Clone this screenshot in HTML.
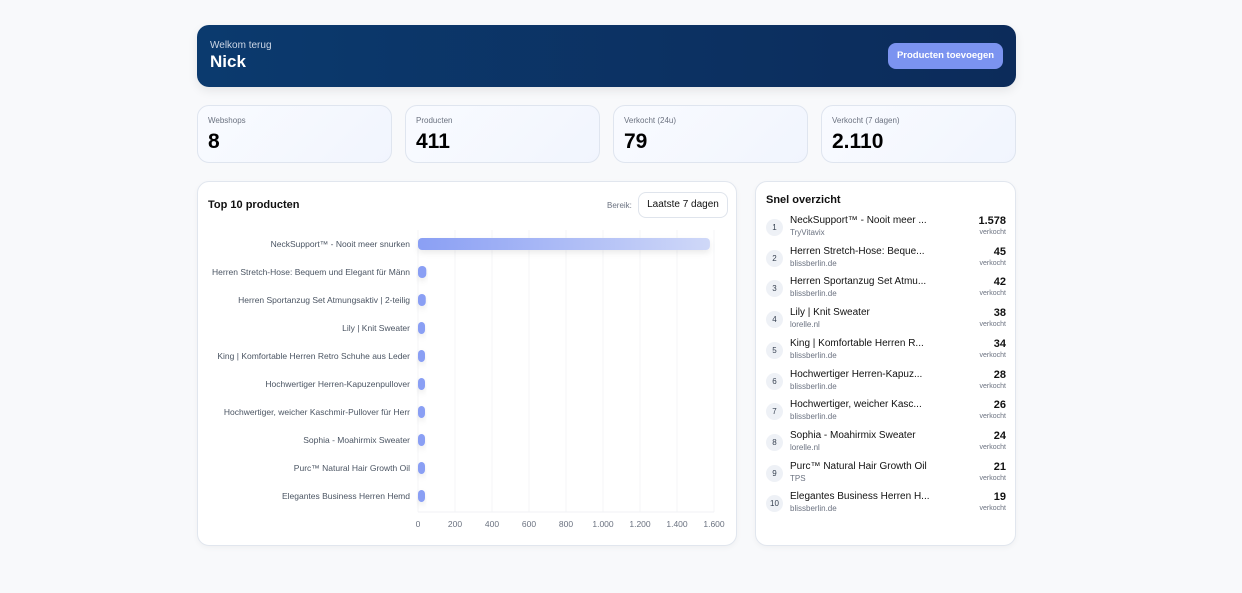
<!DOCTYPE html>
<html><head><meta charset="utf-8"><style>
*{box-sizing:border-box;margin:0;padding:0}
body{width:1242px;height:593px;background:#f8f9fb;font-family:"Liberation Sans",sans-serif;position:relative;overflow:hidden;color:#111}
.abs{position:absolute}
.hero{left:197px;top:25px;width:819px;height:62px;border-radius:12px;background:linear-gradient(90deg,#0b3a6e,#0c2b5a);box-shadow:0 4px 10px rgba(0,0,0,.08)}
.card{background:linear-gradient(135deg,#f9fbff,#f1f5fe);border:1px solid #dfe5ef;border-radius:12px;top:105px;width:195px;height:58px}
.card .l{position:absolute;left:10px;top:10px;font-size:8px;color:#6b7280}
.card .v{position:absolute;left:10px;top:24px;font-size:21px;font-weight:bold;color:#000}
.panel{background:#fff;border:1px solid #e1e6ee;border-radius:12px;top:181px;height:365px;box-shadow:0 2px 6px rgba(0,0,0,.04)}
.row{position:absolute;left:0;width:261px;height:30px}
.num{position:absolute;left:10px;top:4px;width:17px;height:17px;border-radius:50%;background:#eef1f6;font-size:8px;color:#374151;text-align:center;line-height:17px}
.nm{position:absolute;left:34px;top:0;font-size:10px;color:#111}
.sh{position:absolute;left:34px;top:13px;font-size:8px;color:#6b7280}
.ct{position:absolute;right:11px;top:0;font-size:11px;font-weight:bold;text-align:right}
.vk{position:absolute;right:11px;top:14px;font-size:7px;color:#6b7280}
</style></head><body>
<div class="abs hero">
 <div class="abs" style="left:13px;top:15px;font-size:10px;color:#cdd7e6">Welkom terug</div>
 <div class="abs" style="left:13px;top:27px;font-size:17px;font-weight:bold;color:#fff">Nick</div>
 <div class="abs" style="left:691px;top:18px;width:115px;height:26px;border-radius:8px;background:#7b93f0;color:#fff;font-size:9.5px;font-weight:bold;text-align:center;line-height:26px">Producten toevoegen</div>
</div>
<div class="abs card" style="left:197px"><div class="l">Webshops</div><div class="v">8</div></div>
<div class="abs card" style="left:405px"><div class="l">Producten</div><div class="v">411</div></div>
<div class="abs card" style="left:613px"><div class="l">Verkocht (24u)</div><div class="v">79</div></div>
<div class="abs card" style="left:821px"><div class="l">Verkocht (7 dagen)</div><div class="v">2.110</div></div>

<div class="abs panel" style="left:197px;width:540px">
 <div class="abs" style="left:10px;top:17px;font-size:11px;font-weight:bold">Top 10 producten</div>
 <div class="abs" style="left:409px;top:19px;font-size:8px;color:#6b7280">Bereik:</div>
 <div class="abs" style="left:440px;top:10px;width:90px;height:26px;border:1px solid #dfe4ec;border-radius:8px;font-size:10px;text-align:center;line-height:24px">Laatste 7 dagen</div>
</div>
<svg class="abs" style="left:0;top:0" width="1242" height="593" id="chart">
 <defs><linearGradient id="bg" x1="0" x2="1"><stop offset="0" stop-color="#8a9ff4"/><stop offset="1" stop-color="#cfd8f8"/></linearGradient>
 <filter id="sh" x="-20%" y="-100%" width="140%" height="300%"><feDropShadow dx="0" dy="3" stdDeviation="3" flood-color="#000" flood-opacity=".08"/></filter></defs>
</svg>

<div class="abs panel" style="left:755px;width:261px">
 <div class="abs" style="left:10px;top:12px;font-size:11px;font-weight:bold">Snel overzicht</div>
 <div id="list"></div>
</div>
<script>
const categories=["NeckSupport™ - Nooit meer snurken","Herren Stretch-Hose: Bequem und Elegant für Männ","Herren Sportanzug Set Atmungsaktiv | 2-teilig","Lily | Knit Sweater","King | Komfortable Herren Retro Schuhe aus Leder","Hochwertiger Herren-Kapuzenpullover","Hochwertiger, weicher Kaschmir-Pullover für Herr","Sophia - Moahirmix Sweater","Purc™ Natural Hair Growth Oil","Elegantes Business Herren Hemd"];
const values=[1578,45,42,38,34,28,26,24,21,19];
const shortNames=["NeckSupport™ - Nooit meer ...","Herren Stretch-Hose: Beque...","Herren Sportanzug Set Atmu...","Lily | Knit Sweater","King | Komfortable Herren R...","Hochwertiger Herren-Kapuz...","Hochwertiger, weicher Kasc...","Sophia - Moahirmix Sweater","Purc™ Natural Hair Growth Oil","Elegantes Business Herren H..."];
const shops=["TryVitavix","blissberlin.de","blissberlin.de","lorelle.nl","blissberlin.de","blissberlin.de","blissberlin.de","lorelle.nl","TPS","blissberlin.de"];
const tickLabels=["0","200","400","600","800","1.000","1.200","1.400","1.600"];
const tickValues=[0,200,400,600,800,1000,1200,1400,1600];
const NS="http://www.w3.org/2000/svg";
const svg=document.getElementById('chart');
const x=v=>418+v*(296/1600);
const y=i=>244+i*28;
function mk(t,a){const e=document.createElementNS(NS,t);for(const k in a)e.setAttribute(k,a[k]);svg.appendChild(e);return e;}
tickValues.forEach((v,i)=>{
 const g=mk('line',{x1:x(v),x2:x(v),y1:230,y2:512,stroke:'#f4f5f7','stroke-width':1});
 
 
 const t=mk('text',{x:x(v),y:527,'font-size':8.5,fill:'#6b7280','text-anchor':'middle','font-family':'Liberation Sans, sans-serif'});
 t.textContent=tickLabels[i];
 
 
});
mk('line',{x1:418,x2:714,y1:512,y2:512,stroke:'#f0f1f4'});
categories.forEach((c,i)=>{
 const t=mk('text',{x:410,y:y(i)+3,'font-size':8.5,fill:'#4b5563','text-anchor':'end','font-family':'Liberation Sans, sans-serif'});
 t.textContent=c;
 
 
 const w=Math.max(x(values[i])-418,7);
 const b=mk('rect',{x:418,y:y(i)-6,width:w,height:12,rx:4,fill:i==0?'url(#bg)':'#8a9ff4',filter:'url(#sh)'});
 
 
});
const list=document.getElementById('list');
shortNames.forEach((n,i)=>{
 const r=document.createElement('div');r.className='row';r.style.top=(33+i*30.7)+'px';
 
 
 r.innerHTML='<div class="num">'+(i+1)+'</div><div class="nm">'+n+'</div><div class="sh">'+shops[i]+'</div><div class="ct">'+(values[i]>=1000?values[i].toLocaleString('de-DE'):values[i])+'</div><div class="vk">verkocht</div>';
 list.appendChild(r);
});
</script>
</body></html>
